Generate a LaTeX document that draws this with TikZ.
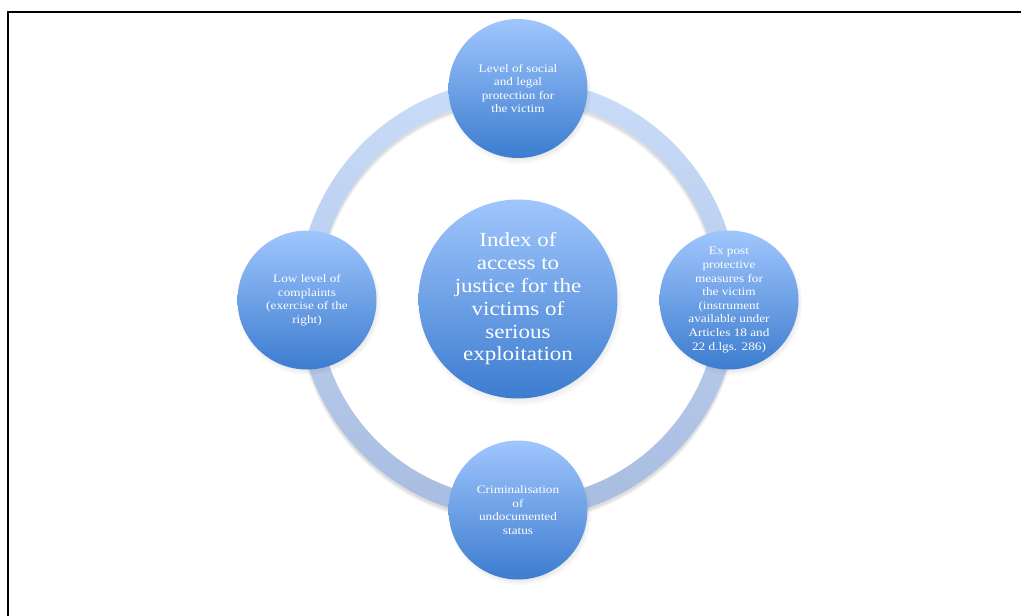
\documentclass[tikz,border=0pt]{standalone}
\usepackage{fontspec}
\setmainfont[FakeStretch=1.15]{Liberation Serif}
\usetikzlibrary{shadows}
\definecolor{ctop}{RGB}{160,198,253}
\definecolor{cbot}{RGB}{60,124,207}
\definecolor{rtop}{RGB}{201,220,249}
\definecolor{rbot}{RGB}{168,188,224}
\begin{document}
\begin{tikzpicture}[x=1pt,y=-1pt,
  bubble/.style={circle, minimum size=139pt, inner sep=0pt, top color=ctop, bottom color=cbot,
    text=white, align=center, font=\fontsize{11.5}{13.6}\selectfont,
    circular drop shadow={shadow yshift=-3pt, shadow scale=1.04, opacity=0.3}},
  hub/.style={bubble, minimum size=199pt, font=\fontsize{20}{22.8}\selectfont}]
\useasboundingbox (0,0) rectangle (1021,616);
\draw[line width=2pt] (8,616) -- (8,12) -- (1021,12);
\coordinate (c) at (518,299);
% ring with soft shadow
\draw[line width=22pt, black, opacity=0.06] ([yshift=-4pt]c) circle (210pt);
\draw[line width=20pt, black, opacity=0.08] ([yshift=-3pt]c) circle (210pt);
\shade[top color=rtop, bottom color=rbot, even odd rule] (c) circle (220pt) (c) circle (200pt);
% nodes
\node[bubble] (top) at (518,88.5) {Level of social\\and legal\\protection for\\the victim};
\node[bubble] (left) at (307,300) {Low level of\\complaints\\(exercise of the\\right)};
\node[bubble] (right) at (729,300) {Ex post\\protective\\measures for\\the victim\\(instrument\\available under\\Articles 18 and\\22 d.lgs. 286)};
\node[bubble] (bottom) at (518,510) {Criminalisation\\of\\undocumented\\status};
\node[hub] (hub) at (c) {Index of\\access to\\justice for the\\victims of\\serious\\exploitation};
\end{tikzpicture}
\end{document}
